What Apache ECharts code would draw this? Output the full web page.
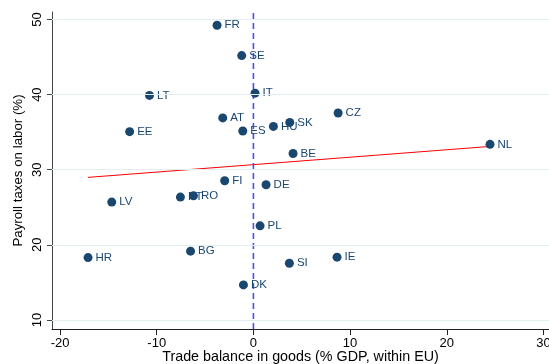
<!DOCTYPE html>
<html><head><meta charset="utf-8">
<script src="https://cdn.jsdelivr.net/npm/echarts@6/dist/echarts.min.js"></script>
<style>html,body{margin:0;padding:0;background:#fff}#c{width:549px;height:364px}</style>
</head><body><div id="c"></div>
<script>
const countries = ['FR','SE','IT','LT','AT','EE','ES','HU','SK','CZ','NL','BE','FI','DE','PT','RO','LV','PL','BG','HR','DK','SI','IE'];
const tradeBalance = [-3.76,-1.21,0.17,-10.75,-3.17,-12.8,-1.1,2.07,3.76,8.76,24.47,4.1,-2.97,1.31,-7.55,-6.2,-14.65,0.69,-6.5,-17.1,-1.03,3.72,8.65];
const payrollTax = [49.24,45.2,40.2,39.9,36.9,35.07,35.16,35.77,36.3,37.56,33.38,32.17,28.53,28.0,26.36,26.53,25.69,22.53,19.16,18.31,14.67,17.56,18.36];
const xTicks = [-20,-10,0,10,20,30];
const yTicks = [10,20,30,40,50];

// OLS fit
const n = tradeBalance.length;
const mx = tradeBalance.reduce((a,b)=>a+b,0)/n;
const my = payrollTax.reduce((a,b)=>a+b,0)/n;
let sxy=0,sxx=0;
for(let i=0;i<n;i++){sxy+=(tradeBalance[i]-mx)*(payrollTax[i]-my);sxx+=(tradeBalance[i]-mx)**2;}
const slope=sxy/sxx, intercept=my-slope*mx;
const xMin=Math.min(...tradeBalance), xMax=Math.max(...tradeBalance);
const fitData=[[xMin,intercept+slope*xMin],[xMax,intercept+slope*xMax]];

const pts = countries.map((c,i)=>[tradeBalance[i],payrollTax[i],c]);
const font = 'Liberation Sans, Arial, sans-serif';
const chart = echarts.init(document.getElementById('c'),null,{renderer:'canvas'});
chart.setOption({
  animation:false,
  backgroundColor:'#fff',
  grid:{left:52,top:12,bottom:35,right:0,containLabel:false,outerBoundsMode:'none'},
  xAxis:{type:'value',min:-20.83,max:30.57,
    name:'Trade balance in goods (% GDP, within EU)',nameLocation:'middle',nameGap:21,nameMoveOverlap:false,
    nameTextStyle:{fontFamily:font,fontSize:14.3,color:'#000'},
    axisLine:{show:true,onZero:false,lineStyle:{color:'#222',width:1}},
    axisTick:{show:true,length:6,customValues:xTicks,lineStyle:{color:'#222'}},
    axisLabel:{customValues:xTicks,fontFamily:font,fontSize:13,color:'#000',margin:8},
    splitLine:{show:false}},
  yAxis:{type:'value',min:8.8,max:51,
    name:'Payroll taxes on labor (%)',nameLocation:'middle',nameGap:27,nameMoveOverlap:false,
    nameTextStyle:{fontFamily:font,fontSize:13.3,color:'#000'},
    axisLine:{show:true,onZero:false,lineStyle:{color:'#444',width:1}},
    axisTick:{show:true,length:5,customValues:yTicks,lineStyle:{color:'#444'}},
    axisLabel:{customValues:yTicks,rotate:90,fontFamily:font,fontSize:13,color:'#000',margin:8},
    splitLine:{show:false}},
  series:[
    {type:'line',data:yTicks.map(v=>[0,v]),showSymbol:false,lineStyle:{opacity:0},silent:true,
      markLine:{silent:true,symbol:'none',label:{show:false},
        lineStyle:{color:'#e2eef0',type:'solid',width:1},
        data:yTicks.map(v=>({yAxis:v}))},z:0},
    {type:'line',data:fitData,showSymbol:false,lineStyle:{color:'#ff0000',width:1},z:2},
    {type:'line',data:[[0,8.8],[0,51]],showSymbol:false,lineStyle:{color:'#4b4bff',width:1.6,type:[6,4]},z:2},
    {type:'scatter',data:pts,symbolSize:9,itemStyle:{color:'#1a476f',opacity:1},z:3,
      label:{show:true,position:'right',distance:3,formatter:p=>p.data[2],
        fontFamily:font,fontSize:11.5,color:'#1a476f'}}
  ]
});
</script></body></html>
